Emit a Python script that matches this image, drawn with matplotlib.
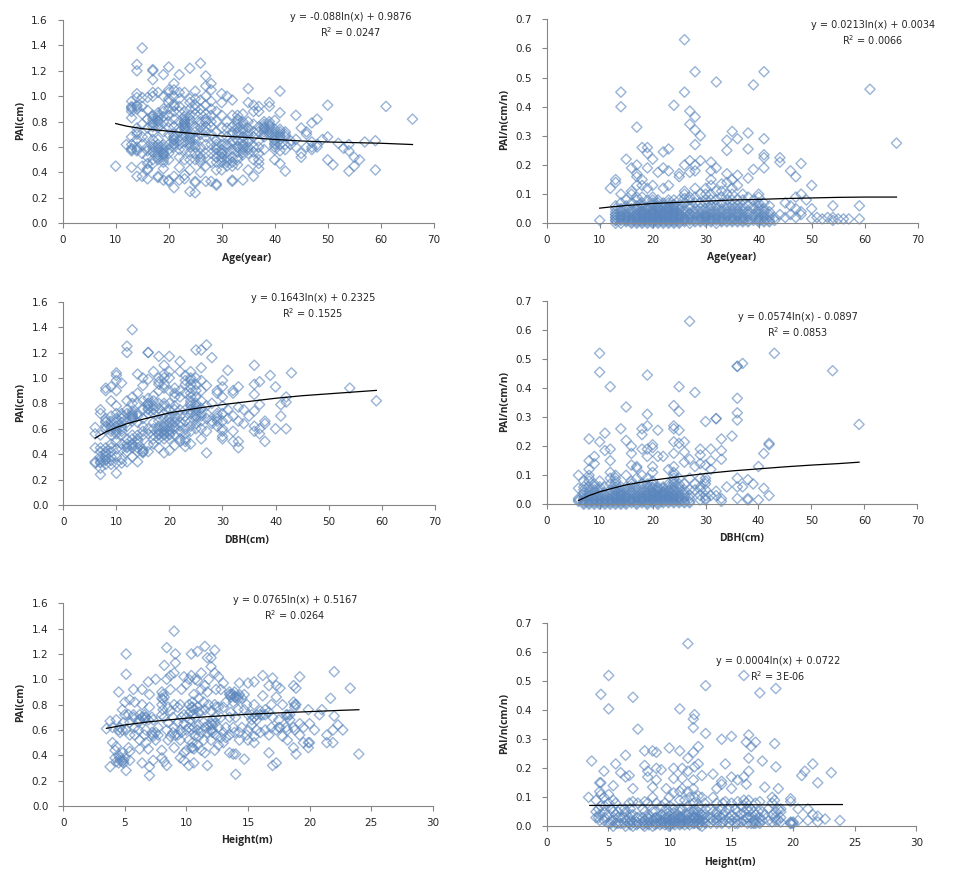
import matplotlib
matplotlib.use('Agg')
import matplotlib.pyplot as plt

# values, one sublist of y values per x value

age_x = [10,12,13,14,15,16,17,18,19,20,21,22,23,24,25,26,27,28,29,30,31,32,33,34,35,36,37,38,39,40,41,42,43,44,45,46,47,48,49,50,51,52,53,54,55,56,57,59,61,66]
age_pai = [[.45],[.62],[.92,.96,.83,.68,.58,.59,.44,.88],[1.25,1.2,1.02,.99,.9,.93,.75,.7,.6,.57,.37],[1.38,.99,.86,.68,.55,.45,.37],
    [.89,.75,.6,.57,.43,.35,.42,.99],[1.21,1.2,1.13,1.03,1.0,.85,.82,.78,.66,.62,.58,.5,.47],[1.03,.87,.85,.8,.75,.66,.62,.37,.36,.6,.52],
    [1.17,1.0,.9,.88,.72,.6,.55,.52,.43,.34,.58],[1.23,1.05,1.03,.95,.85,.75,.62,.55,.34,.33],[1.1,1.05,.93,.92,.82,.7,.66,.63,.37,.28,.68],
    [1.17,1.03,.98,.88,.72,.58,.44,.34,.65],[1.03,.88,.8,.78,.76,.74,.7,.64,.5,.38,.35,.82],[1.22,.98,.85,.8,.7,.66,.6,.56,.42,.25,.95],
    [1.04,.93,.9,.76,.66,.55,.5,.33,.32,.24],[1.26,.97,.9,.8,.75,.6,.5,.48,.4],[1.16,1.08,1.0,.93,.8,.72,.62,.45,.33],[1.1,1.05,.96,.9,.8,.7,.55,.33],
    [.88,.72,.65,.6,.55,.48,.42,.31,.3],[1.02,.85,.75,.68,.58,.55,.5,.42],[1.0,.8,.68,.6,.52,.48,.45],[.97,.76,.72,.65,.58,.45,.34,.33],
    [.85,.8,.75,.7,.65,.6,.5,.46],[.86,.78,.72,.65,.6,.56,.34],[1.06,.95,.75,.7,.64,.58,.42],[.93,.88,.72,.6,.5,.37],[.92,.88,.76,.6,.55,.47,.43],
    [.78,.76,.72,.68,.58],[.95,.92,.8,.76,.7],[.81,.72,.68,.65,.62,.6,.5],[1.04,.87,.72,.68,.57,.47],[.72,.68,.58,.41],[.65,.62],[.85,.66,.6],
    [.75,.55,.52],[.72,.7,.6],[.79,.64,.6,.58],[.82,.62,.6],[.66],[.93,.68,.5],[.46],[.63],[.59],[.62,.57,.41],[.52,.45],[.5],[.64],[.65,.42],[.92],[.82]]
age_pain = [[.01],[.12],[.14,.15,.06,.04,.02,.01,.0,.03],[.45,.40,.10,.07,.05,.03,.02,.01,.0],[.22,.08,.06,.03,.02,.01],[.19,.11,.1,.04,.02,.01,.0],
    [.33,.2,.17,.16,.13,.09,.05,.03,.02,.01,.0],[.26,.15,.13,.09,.06,.04,.03,.02,.01,.0],[.26,.24,.19,.12,.08,.05,.03,.02,.01,.0],
    [.22,.13,.09,.07,.05,.04,.03,.02,.01,.0],[.175,.08,.07,.06,.04,.03,.02,.01,.0,.05],[.245,.19,.12,.06,.04,.03,.02,.01,.0],
    [.255,.18,.13,.08,.06,.05,.04,.03,.02,.01,.0],[.405,.08,.06,.05,.04,.03,.02,.01,.0],[.17,.16,.08,.05,.03,.02,.01,.0],[.63,.45,.2,.11,.1,.07,.04,.02,.01],
    [.385,.34,.215,.175,.09,.05,.03,.02,.0],[.52,.365,.32,.27,.2,.18,.12,.07,.03,.01],[.3,.215,.1,.05,.02,.01],[.12,.1,.05,.03,.02,.01],
    [.21,.18,.15,.13,.06,.04,.02,.01],[.485,.19,.11,.06,.03,.02,.0],[.135,.07,.04,.02,.01],[.285,.25,.17,.14,.1,.05,.03,.01],[.315,.15,.12,.06,.04,.02,.01],
    [.29,.165,.13,.05,.03,.01],[.1,.05,.03,.02,.01],[.31,.255,.155,.09,.06,.02],[.475,.185,.08,.03],[.1,.09,.06,.05,.03,.02,.01],
    [.52,.29,.235,.225,.19,.07,.04,.02,.01],[.06,.03,.02,.01],[.02,.01],[.225,.21,.03],[.07,.02],[.18,.06,.03],[.16,.09,.05,.02],[.205,.1,.04,.03],[.08],
    [.13,.05,.015],[.02],[.015],[.02],[.06,.02,.01],[.015],[.015],[.015],[.06,.015],[.46],[.275]]

# the crowded parts of the age panels
age_dense_x = [13,14,15,16,17,18,19,20,21,22,23,24,25,26,27,28,29,30,31,32,33,34,35,36,37,38,39,40,41,42]
age_dense_pai = [[.9,.91,.62,.57],[.92,.72,.66,.58],[.92,.78,.62],[.82,.68,.52,.47],[.84,.8,.76,.72,.6,.56],[.83,.81,.78,.58,.56,.54,.5],[.84,.8,.62,.56,.54,.5,.48],
    [.98,.9,.8,.7,.58,.5],[1.0,.88,.76,.68,.65,.62,.6],[.92,.8,.75,.62,.52],[.84,.8,.78,.75,.72,.68,.58],[.9,.82,.78,.68,.64,.62,.5],[.98,.86,.72,.68,.62,.6],
    [.86,.78,.7,.55,.52],[.86,.82,.76,.68,.55],[.85,.76,.62,.48],[.8,.62,.58,.52],[.95,.62,.55,.52,.48],[.75,.62,.56,.5],[.85,.7,.62,.52,.48],[.82,.78,.72,.6,.56,.52],
    [.8,.74,.68,.62,.58,.54],[.8,.72,.66,.6,.55],[.78,.68,.56],[.72,.65,.5],[.8,.75,.74,.7],[.78,.74,.72],[.74,.7,.66,.63,.58],[.74,.7,.66,.62],[.7,.62]]
age_dense_pain = [[.01,.02,.03,.05],[.015,.025,.04],[.005,.015,.025,.04,.05],[.005,.015,.03,.05,.07],[.005,.015,.025,.035,.045,.06,.08],[.005,.015,.025,.035,.045,.055,.07],
    [.005,.015,.025,.035,.045,.055],[.005,.015,.025,.035,.045,.06,.08],[.005,.015,.025,.035,.045,.055],[.005,.015,.025,.035,.05,.07],[.005,.015,.025,.035,.045,.055,.07],
    [.005,.015,.025,.035,.045,.055,.065],[.005,.015,.025,.035,.045,.06],[.005,.015,.03,.05,.085],[.01,.015,.035,.06,.08],[.005,.02,.04,.05,.09],[.005,.015,.03,.04,.07],
    [.005,.015,.025,.04,.07,.08],[.005,.015,.03,.05,.08,.1],[.01,.015,.04,.05,.08],[.005,.015,.03,.05,.09,.11],[.005,.02,.04,.06,.08],[.005,.015,.03,.05,.08,.1],
    [.005,.02,.04,.06,.08],[.005,.015,.04,.06,.08],[.005,.01,.03,.04],[.01,.02,.05,.06],[.005,.015,.04,.07],[.005,.03,.05],[.005,.04]]

dbh_x = [6,7,8,9,10,11,12,13,14,15,16,17,18,19,20,21,22,23,24,25,26,27,28,29,30,31,32,33,34,35,36,37,38,39,40,41,42,43,54,59]
dbh_pai = [[.61,.56,.45,.34,.33],[.75,.72,.55,.45,.38,.33,.29,.24],[.92,.9,.68,.65,.6,.45,.38,.35,.32],[.93,.82,.7,.62,.55,.45,.42,.38,.32],
    [1.04,1.02,.98,.9,.78,.68,.65,.6,.56,.38,.33,.25],[.96,.72,.68,.65,.6,.55,.36,.33],[1.25,1.2,.82,.75,.65,.48,.45,.34],
    [1.38,.85,.8,.72,.7,.68,.55,.48,.45,.38],[1.03,.88,.72,.65,.52,.5,.45,.34],[1.0,.94,.75,.62,.55,.42,.41],[1.2,1.2,.99,.8,.78,.75,.6,.47,.42],
    [1.05,.86,.78,.72,.65,.55,.48],[1.17,1.0,.97,.8,.72,.62,.58,.55,.45],[1.1,1.0,.95,.78,.72,.62,.58,.55,.41],[1.17,1.05,.9,.75,.68,.62,.58,.55,.43],
    [.92,.88,.78,.7,.65,.6,.47],[1.13,1.05,.85,.75,.65,.58,.5],[1.02,.95,.75,.66,.6,.5,.46],[1.05,.98,.92,.85,.8,.75,.66,.58,.48],
    [1.22,1.0,.9,.8,.76,.72,.68,.6],[1.22,1.08,.98,.82,.72,.6,.52],[1.26,.94,.78,.58,.41],[1.16,.8,.66,.64],[.9,.88,.7,.68],[.98,.93,.85,.72,.6,.54,.52],
    [1.06,.75,.68],[.9,.88,.7,.58,.5],[.93,.77,.66,.5,.45],[.75,.64],[.7],[1.1,.95,.87,.74,.62,.58],[.97,.79,.6,.56],[.66,.64,.5],[1.02],[.93,.6],[.79,.7],
    [.85,.81,.6],[1.04],[.92],[.82]]
dbh_pain = [[.1,.055,.02,.015,.01],[.08,.05,.03,.02,.01,.0],[.225,.15,.12,.1,.08,.05,.03,.01,.0],[.165,.14,.07,.05,.03,.015,.0],[.52,.455,.215,.08,.06,.03,.01,.0],
    [.245,.185,.06,.03,.01,.0],[.405,.19,.15,.11,.09,.04,.02,.01,.0],[.1,.09,.08,.05,.03,.02,.01,.0],[.26,.06,.04,.03,.02,.01,.0],[.335,.22,.1,.05,.03,.02,.01,.0],
    [.2,.175,.135,.08,.06,.04,.02,.01],[.13,.125,.09,.05,.03,.02,.01,.0],[.26,.24,.19,.1,.07,.05,.03,.02,.01],[.445,.31,.27,.19,.165,.09,.06,.04,.03,.02,.01,.0],
    [.205,.195,.13,.11,.08,.06,.04,.03,.02,.01],[.255,.165,.06,.05,.03,.02,.01,.0],[.165,.06,.04,.03,.02,.01],[.12,.07,.05,.03,.02,.01],
    [.34,.27,.26,.215,.175,.13,.11,.09,.07,.05,.03,.02,.01],[.405,.32,.255,.21,.09,.07,.05,.03,.02,.01],[.215,.18,.145,.05,.03,.01],[.63,.155,.09,.03,.01],
    [.385,.13,.07,.05],[.19,.17,.14,.06,.03],[.285,.135,.08,.07,.02,.015],[.19,.15,.12,.03],[.295,.295,.045,.03],[.225,.185,.155,.02,.01],[.06],[.235],
    [.475,.475,.365,.315,.29,.09,.06,.02],[.485,.06],[.085,.02,.015],[.07],[.13,.015],[.175,.055],[.21,.205,.03],[.52],[.46],[.275]]

dbh_dense_x = [7,8,9,10,11,12,13,14,15,16,17,18,19,20,21,22,23,24,25,26,27,29,30]
dbh_dense_pai = [[.42,.36,.34],[.66,.62,.42,.4,.36],[.66,.6,.58,.48,.35],[.72,.62,.58,.5,.44],[.7,.62,.58,.48,.44],[.72,.62,.52,.46,.42],[.74,.71,.69,.66,.52,.47],[.8,.7,.55,.48,.42],
    [.82,.68,.58,.44,.42],[.84,.8,.76,.72,.56],[.82,.75,.6,.52],[.95,.9,.76,.66,.6,.56,.52],[1.03,.92,.8,.68,.64,.6,.56,.52],[1.0,.8,.7,.65,.6,.56,.52],[.85,.75,.68,.62,.55],
    [.9,.7,.62,.52],[.98,.88,.7,.56,.52],[1.0,.95,.88,.82,.78,.72,.62],[.95,.85,.78,.74,.7,.64],[.9,.76,.7,.66],[.72,.68],[.72,.66,.62],[.78,.66,.58]]
dbh_dense_pain = [[.005,.015,.04,.06],[.005,.015,.025,.04,.06,.09],[.005,.01,.02,.04,.06],[.005,.015,.02,.04,.05],[.005,.015,.02,.04],[.005,.015,.03,.05,.07],[.005,.015,.025,.035,.045,.06,.07],
    [.005,.015,.025,.035,.05],[.005,.015,.025,.04,.06],[.005,.015,.03,.05,.07],[.005,.015,.025,.04,.06],[.005,.015,.025,.04,.06],[.005,.015,.025,.035,.05,.07],[.005,.015,.025,.035,.045,.055,.07],
    [.005,.015,.025,.035,.045,.055],[.005,.015,.025,.035,.045,.055],[.005,.015,.025,.035,.045,.06],[.005,.015,.025,.035,.045,.06,.08,.1],[.005,.015,.025,.04,.06],[.005,.02,.04,.07],[.005,.02,.05],
    [.015,.05,.09],[.03,.05,.09]]

height_x = [3.5,3.8,4.0,4.3,4.5,4.8,5.0,5.1,5.4,5.7,6.2,6.4,6.7,6.9,7.0,7.3,7.5,8.0,8.2,8.4,8.7,9.0,9.1,9.5,9.8,10.2,10.4,10.6,10.9,11.2,11.5,11.7,12.0,12.3,12.6,13.0,13.5,13.8,14.0,14.3,14.7,15.0,15.5,16.0,16.2,16.7,17.0,17.3,17.6,17.8,18.2,18.7,18.9,19.2,19.9,20.0,20.4,20.8,21.0,21.4,21.7,21.9,22.0,22.3,22.7,23.3,24.0]
height_pai = [[.61],[.67,.31],[.62,.5],[.47,.35,.68],[.9,.6,.4,.34],[.76,.6,.35,.42],[.82,.72,.38],[1.2,1.04,.28,.6],[.84,.66,.36,.43,.56],[.92,.72,.7],
    [.72,.68,.52,.45],[.92,.8,.7,.34],[.7,.6,.5],[.98,.68,.45],[.88,.78,.31,.24],[.68,.55,.36],[1.0,.58,.52],[.9,.85,.8,.72,.44,.38],[1.11,.86,.7,.35],[1.25,1.0,.6,.32],
    [1.03,.92,.75,.55],[1.38,1.05,.8,.62,.46],[1.2,1.13,.56],[.8,.6,.52,.38],[1.02,.72,.65,.42,.36],[1.0,.8,.62,.52,.32],[1.2,1.03,.78,.6,.46],[.88,.76,.62,.45,.34],
    [1.22,.99,.78,.6,.48],[1.05,.92,.75,.58,.44],[1.26,.95,.76,.62,.42],[1.17,.9,.58,.32],[1.17,1.1,.75,.65,.6,.52],[1.23,1.05,.8,.65,.44],[1.02,.78,.62,.48],
    [.97,.78,.58,.5],[.9,.88,.7,.56,.42],[.88,.82,.62,.41],[.86,.7,.41,.25],[.97,.88,.58,.52],[.88,.76,.37],[.97,.72,.6,.52],[.98,.8,.7,.55,.5],[.75,.72,.58],
    [1.03,.87,.72],[.95,.74,.56,.42],[1.01,.7,.32],[.95,.86,.6,.34],[.93,.62],[.8,.55],[.72,.7,.52,.6],[.95,.82,.62,.46],[.8,.93,.41],[1.02,.65,.56],[.76,.5,.46],
    [.65,.5],[.6],[.72],[.76],[.5,.56],[.85],[.5,.6],[1.06,.71],[.64],[.6],[.93],[.41]]

height_dense_x = [4.2,4.6,4.9,5.3,5.8,6.1,6.6,7.2,7.7,8.1,8.5,8.9,9.3,9.6,10.0,10.3,10.5,10.7,11.0,11.4,11.8,12.1,12.4,12.8,13.2,13.6,13.9,14.2,14.5,14.9,15.3,15.7,16.4,16.9,17.5,18.1,18.4,18.8,19.5]
height_dense_pai = [[.44,.38],[.62,.58,.38,.36],[.66,.36,.34],[.72,.46],[.82,.62,.56],[.66,.6],[.72,.7,.68,.56],[.7,.58,.56],[.62,.56],[.88,.84,.76],[.78,.66,.52],[.7,.58],[.78,.66,.56],[.92,.7,.58],
    [.96,.7,.6,.44],[.74,.68],[.82,.78,.72,.5,.46],[1.0,.7,.56],[.85,.74,.64,.55],[.82,.66,.52],[1.0,.8,.64],[.68,.64,.6,.58],[.92,.78,.7,.56],[.92,.7,.54],[.82,.62,.54],[.88,.86,.74],[.9,.86,.58],
    [.86,.84,.76],[.85,.62],[.8,.56],[.72,.68,.64],[.72,.68,.6],[.76,.72,.6],[.8,.62],[.68,.62],[.72,.62],[.72,.68],[.8,.78,.6],[.62,.5]]

height_n_x = [3.4,3.65,4.0,4.3,4.4,4.65,5.03,5.4,5.6,6.0,6.4,6.7,7.0,7.4,7.95,8.2,8.6,8.9,9.3,9.7,9.95,10.3,10.8,11.0,11.46,11.9,12.0,12.3,12.6,12.9,13.5,13.8,14.2,14.5,15.0,15.5,16.0,16.2,16.4,16.6,16.95,17.3,17.5,17.7,18.3,18.5,18.6,18.8,19.0,19.8,20.0,20.4,20.7,20.95,21.2,21.6,22.0,22.6,23.1,23.8]
height_pain = [[.1],[.225],[.09,.05,.03],[.15,.12,.04,.02],[.455,.15,.11,.07],[.19,.1,.05,.02],[.52,.405,.11,.08,.04,.01],[.14,.09,.05,.02,.0],[.215,.08,.04,.01],[.185,.06,.03,.01],
    [.245,.17,.05,.02,.0],[.175,.08,.03,.01],[.445,.13,.085,.04,.015,.0],[.335,.08,.03,.01],[.26,.21,.085,.05,.02,.01,.0],[.19,.17,.08,.03,.01],[.26,.135,.1,.05,.02,.0],
    [.255,.2,.16,.08,.03,.01],[.195,.07,.04,.02,.01],[.13,.06,.03,.01],[.27,.1,.05,.02,.01,.0],[.2,.165,.115,.06,.03,.02,.01],[.405,.26,.12,.09,.05,.03,.01],[.2,.165,.13,.06,.03,.02,.01],
    [.63,.235,.19,.12,.07,.04,.02,.01],[.37,.34,.255,.16,.13,.08,.05,.03,.01],[.385,.205,.1,.06,.03,.01],[.215,.275,.105,.05,.025,.01],[.175,.1,.04,.02,.0],[.485,.32,.06,.03,.01],
    [.18,.1,.05,.02],[.13,.08,.04,.02],[.3,.155,.145,.06,.03,.01],[.215,.085,.05,.02],[.31,.17,.13,.08,.04,.02],[.16,.085,.05,.02,.01],[.52,.17,.09,.05,.02],[.29,.145,.08,.03],
    [.315,.235,.19,.09,.05],[.275,.06,.03,.01],[.29,.08,.04,.02,.01],[.46,.085,.03,.01],[.225,.05,.02],[.135,.04],[.1,.08,.04,.015],[.285,.09,.03],[.475,.205,.05,.02],[.13,.06,.02],
    [.06,.03],[.095,.085,.015,.01,.01],[.015,.01],[.06,.02],[.175],[.19],[.06,.02],[.215,.04],[.15,.035,.015],[.025],[.185],[.02]]

height_n_dense_x = [4.2,4.7,5.2,5.8,6.3,6.8,7.3,7.8,8.3,8.8,9.2,9.6,10.0,10.4,10.8,11.2,11.6,12.0,12.4,12.8,13.3,13.8,14.3,14.8,15.3,15.8,16.3,16.8,17.2,18.0,19.0]
height_n_dense_pain = [[.03,.06],[.03,.07],[.02,.06,.01],[.01,.03,.05],[.01,.03,.06],[.005,.02,.04,.06],[.005,.015,.03],[.005,.015,.03,.06],[.005,.015,.025,.04],[.005,.015,.03,.05],[.005,.015,.025,.035],
    [.005,.015,.025,.04,.08],[.005,.015,.025,.035,.07],[.005,.015,.025,.035,.045],[.005,.015,.025,.035,.06],[.005,.015,.025,.04,.09],[.005,.015,.03,.05,.1],[.015,.025,.035,.045],[.005,.015,.025,.035,.07],
    [.015,.025,.04,.08],[.01,.03,.06],[.01,.03,.05],[.015,.04,.08],[.01,.03,.06],[.01,.03,.06],[.015,.04,.07],[.01,.03,.06],[.01,.02,.05],[.015,.05],[.02,.06],[.015,.05]]

# trend lines
trend_age_x = [10,12,15,20,25,30,35,40,45,50,55,60,66]
trend_age_pai = [.785,.765,.745,.725,.705,.687,.675,.66,.648,.64,.635,.63,.62]
trend_age_pain = [.052,.056,.061,.068,.072,.076,.08,.082,.085,.087,.089,.09,.09]
trend_dbh_x = [6,8,10,12,15,20,25,30,35,40,45,50,55,59]
trend_dbh_pai = [.527,.575,.61,.64,.675,.725,.76,.79,.815,.84,.86,.875,.89,.902]
trend_dbh_pain = [.013,.03,.043,.053,.067,.083,.095,.106,.115,.122,.129,.135,.14,.145]
trend_height_x = [3.5,5,7,10,12,15,17,20,22.5,24]
trend_height_pai = [.613,.64,.665,.693,.707,.724,.733,.745,.755,.76]
trend_height_pain = [.072,.072,.073,.073,.073,.074,.074,.074,.075,.075]

W,H=955,877
marker_color='#5a86bd'
axis_color='#868686'
text_color='#262626'

panels=[
    # x, y, trend x, trend y, xlabel, ylabel, eq, r2, xmax, ymax, axes box (left,right,bottom,top px), eq pos, xlabel pos, ylabel pos
    (age_x+age_dense_x,age_pai+age_dense_pai,trend_age_x,trend_age_pai,'Age(year)','PAI(cm)','y = -0.088ln(x) + 0.9876','R$^2$ = 0.0247',70,1.6,(62.7,433.7,223.3,20),(351,17),(247,259),(21,120)),
    (age_x+age_dense_x,age_pain+age_dense_pain,trend_age_x,trend_age_pain,'Age(year)','PAI/n(cm/n)','y = 0.0213ln(x) + 0.0034','R$^2$ = 0.0066',70,0.7,(546.7,917.7,223.3,19.3),(873,25),(732,258),(505,120)),
    (dbh_x+dbh_dense_x,dbh_pai+dbh_dense_pai,trend_dbh_x,trend_dbh_pai,'DBH(cm)','PAI(cm)','y = 0.1643ln(x) + 0.2325','R$^2$ = 0.1525',70,1.6,(63.3,434.7,505,301.7),(313,298),(247,540),(21,402)),
    (dbh_x+dbh_dense_x,dbh_pain+dbh_dense_pain,trend_dbh_x,trend_dbh_pain,'DBH(cm)','PAI/n(cm/n)','y = 0.0574ln(x) - 0.0897','R$^2$ = 0.0853',70,0.7,(546.7,917.3,504.3,301),(798,317),(742,539),(505,402)),
    (height_x+height_dense_x,height_pai+height_dense_pai,trend_height_x,trend_height_pai,'Height(m)','PAI(cm)','y = 0.0765ln(x) + 0.5167','R$^2$ = 0.0264',30,1.6,(63.3,432.7,806,603.3),(295,600),(247,841),(21,702)),
    (height_n_x+height_n_dense_x,height_pain+height_n_dense_pain,trend_height_x,trend_height_pain,'Height(m)','PAI/n(cm/n)','y = 0.0004ln(x) + 0.0722','R$^2$ = 3E-06',30,0.7,(546.7,916.3,826.3,623.3),(778,661),(730,862),(505,723)),
]

plt.rcParams.update({'font.family':'DejaVu Sans','font.size':7.5,'mathtext.default':'regular'})

fig=plt.figure(figsize=(W/100,H/100),dpi=100)

for xs,ys,tx,ty,xlabel,ylabel,eq,r2,xmax,ymax,box,eq_pos,xl_pos,yl_pos in panels:
    left,right,bottom,top=box
    ax=fig.add_axes([left/W,1-bottom/H,(right-left)/W,(bottom-top)/H])

    px=[x for x,row in zip(xs,ys) for _ in row]
    py=[y for row in ys for y in row]
    ax.scatter(px,py,marker='D',s=27,facecolors='none',edgecolors=marker_color,linewidths=1.0,alpha=0.62,clip_on=False,zorder=2)
    ax.plot(tx,ty,color='black',lw=0.9,zorder=3)

    ax.set_xlim(0,xmax)
    ax.set_ylim(0,ymax)
    ax.set_xticks(range(0,xmax+1,10 if xmax==70 else 5))
    step=0.2 if ymax==1.6 else 0.1
    ticks=[i*step for i in range(int(round(ymax/step))+1)]
    ax.set_yticks(ticks)
    ax.set_yticklabels(['%.1f'%t for t in ticks])
    ax.tick_params(length=3.3,width=0.8,color=axis_color,labelcolor=text_color)
    ax.tick_params(axis='y',pad=7.5)
    ax.tick_params(axis='x',pad=5)
    ax.spines['top'].set_visible(False)
    ax.spines['right'].set_visible(False)
    ax.spines['left'].set_color(axis_color)
    ax.spines['bottom'].set_color(axis_color)

    fig.text(eq_pos[0]/W,1-eq_pos[1]/H,eq,ha='center',va='center',color=text_color,fontsize=7)
    fig.text(eq_pos[0]/W,1-(eq_pos[1]+15)/H,r2,ha='center',va='center',color=text_color,fontsize=7)
    fig.text(xl_pos[0]/W,1-xl_pos[1]/H,xlabel,ha='center',va='center',fontweight='bold',color=text_color,fontsize=7.5,family='Open Sans')
    fig.text(yl_pos[0]/W,1-yl_pos[1]/H,ylabel,ha='center',va='center',rotation=90,fontweight='bold',color=text_color,fontsize=7.5,family='Open Sans')

fig.savefig('out.png',dpi=100)
